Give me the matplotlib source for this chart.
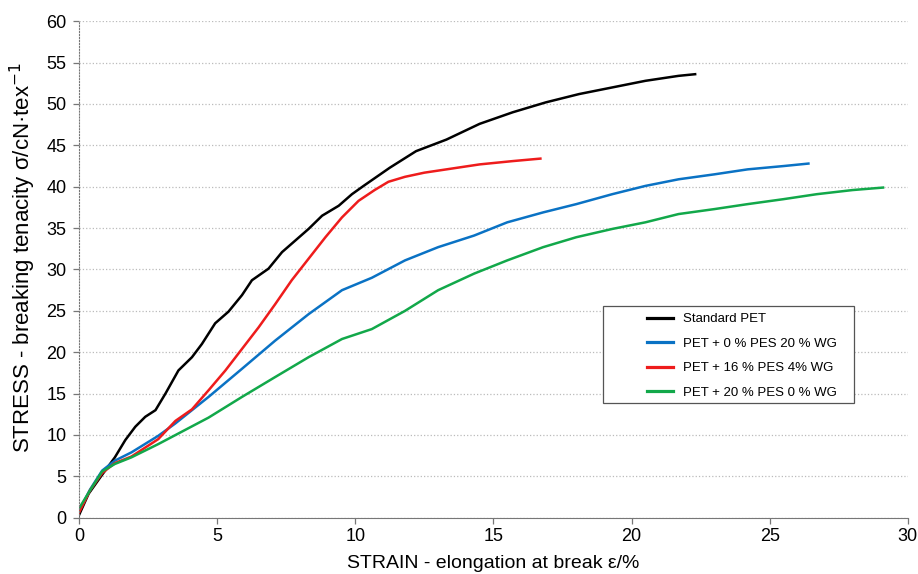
import numpy as np
import matplotlib.pyplot as plt
from matplotlib.patches import Rectangle

plt.rcParams['font.family'] = ['Liberation Sans', 'DejaVu Sans']

# strain (%) / stress (cN/tex)
std_x = [0, 0.35, 0.84, 1.3, 1.68, 2.04, 2.4, 2.77, 3.13, 3.6, 4.09, 4.45, 4.93, 5.41, 5.9,
         6.26, 6.86, 7.35, 7.83, 8.31, 8.8, 9.4, 9.88, 10.3, 11.25, 12.2, 13.3, 14.5, 15.7,
         16.9, 18.1, 19.3, 20.5, 21.7, 22.3]
std_y = [0.3, 2.9, 5.2, 7.3, 9.4, 11.0, 12.2, 13.0, 15.0, 17.8, 19.4, 21.0, 23.5, 24.9, 26.9,
         28.7, 30.1, 32.1, 33.5, 34.9, 36.5, 37.7, 39.1, 40.1, 42.3, 44.3, 45.7, 47.6, 49.0,
         50.2, 51.2, 52.0, 52.8, 53.4, 53.6]

pes0_x = [0, 0.4, 0.84, 1.3, 1.9, 2.87, 3.49, 4.69, 5.9, 7.1, 8.31, 9.52, 10.6, 11.8, 13.0,
          14.3, 15.5, 16.8, 18.0, 19.3, 20.5, 21.7, 23.0, 24.2, 25.5, 26.4]
pes0_y = [0.8, 3.4, 5.7, 6.9, 7.9, 9.9, 11.4, 14.6, 18.0, 21.4, 24.6, 27.5, 29.0, 31.1, 32.7,
          34.1, 35.7, 36.9, 37.9, 39.1, 40.1, 40.9, 41.5, 42.1, 42.5, 42.8]

pes16_x = [0, 0.4, 0.84, 1.3, 1.9, 2.87, 3.49, 4.09, 4.69, 5.3, 5.9, 6.5, 7.1, 7.7, 8.31,
           8.92, 9.52, 10.12, 10.7, 11.2, 11.8, 12.5, 13.3, 14.5, 15.7, 16.7]
pes16_y = [0.6, 3.3, 5.4, 6.6, 7.4, 9.5, 11.7, 13.1, 15.4, 17.8, 20.4, 23.0, 25.8, 28.7, 31.3,
           33.9, 36.3, 38.3, 39.6, 40.6, 41.2, 41.7, 42.1, 42.7, 43.1, 43.4]

pes20_x = [0, 0.4, 0.84, 1.3, 1.9, 2.87, 4.69, 5.9, 7.1, 8.31, 9.52, 10.6, 11.8, 13.0, 14.3,
           15.5, 16.8, 18.0, 19.3, 20.5, 21.7, 23.0, 24.2, 25.5, 26.7, 28.0, 29.1]
pes20_y = [1.1, 3.3, 5.6, 6.5, 7.3, 8.9, 12.1, 14.6, 17.0, 19.4, 21.6, 22.8, 25.0, 27.5, 29.5,
           31.1, 32.7, 33.9, 34.9, 35.7, 36.7, 37.3, 37.9, 38.5, 39.1, 39.6, 39.9]

labels = ['Standard PET', 'PET + 0 % PES 20 % WG', 'PET + 16 % PES 4% WG', 'PET + 20 % PES 0 % WG']
colors = ['#000000', '#0a72c4', '#ee1c1c', '#12a84a']

fig = plt.figure(figsize=(9.18, 5.74), dpi=100)
ax = fig.add_axes([0.086, 0.098, 0.903, 0.865])

series = [(std_x, std_y), (pes0_x, pes0_y), (pes16_x, pes16_y), (pes20_x, pes20_y)]
for (x, y), lab, c in zip(series, labels, colors):
    ax.plot(x, y, color=c, lw=1.8, label=lab)

ax.set_xlim(0, 30)
ax.set_ylim(0, 60)
ax.set_xticks(np.arange(0, 31, 5))
ax.set_yticks(np.arange(0, 61, 5))
ax.yaxis.grid(True, ls=':', color='#bbbbbb', lw=0.9)
ax.set_axisbelow(True)

for s in ['top', 'right']:
    ax.spines[s].set_visible(False)
ax.spines['left'].set_linestyle(':')
ax.spines['left'].set_color('#777777')
ax.spines['bottom'].set_color('#777777')
ax.tick_params(axis='both', labelsize=13, length=4, color='#777777', width=0.9)
ax.tick_params(axis='y', pad=5)

ax.set_ylabel('STRESS - breaking tenacity σ/cN·tex$^{-1}$', fontsize=16)
ax.yaxis.set_label_coords(-0.049, 0.525)
ax.set_xlabel('STRAIN - elongation at break ε/%', fontsize=14, labelpad=7)

# legend box
ax.add_patch(Rectangle((603 / 918, 1 - 403 / 574), 251 / 918, 97 / 574,
                       transform=fig.transFigure, facecolor='white', clip_on=False,
                       edgecolor='#555555', lw=0.9, zorder=5))
leg = ax.legend(loc='upper left', bbox_to_anchor=(647 / 918, 1 - 313 / 574),
                bbox_transform=fig.transFigure, fontsize=9.5, frameon=False,
                borderaxespad=0, borderpad=0, handlelength=1.97, handletextpad=0.76,
                labelspacing=0.93)
leg.set_zorder(6)
for h in leg.get_lines():
    h.set_linewidth(2.3)

fig.savefig('out.png', dpi=100)
